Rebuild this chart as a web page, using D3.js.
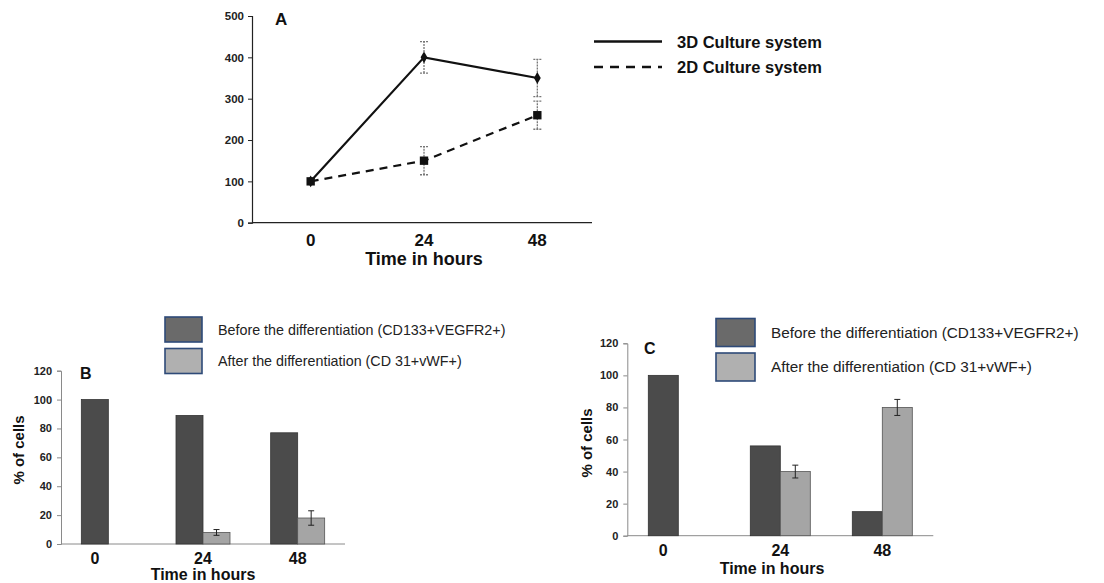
<!DOCTYPE html>
<html>
<head>
<meta charset="utf-8">
<script src="https://cdn.jsdelivr.net/npm/d3@7"></script>
<style>
  body { margin: 0; background: #fff; }
  svg { font-family: "Liberation Sans", Arial, sans-serif; }
</style>
</head>
<body>
<svg id="fig" width="1104" height="583"></svg>
<script>
// categories
const hours = ["0", "24", "48"];

// panel A – line chart
const seriesA = ["3D Culture system", "2D Culture system"];
const culture3D = [100, 400, 350];
const culture3DErr = [0, 38, 45];
const culture2D = [100, 150, 260];
const culture2DErr = [0, 34, 34];
const ticksA = [0, 100, 200, 300, 400, 500];

// panels B and C – bar charts
const barSeries = ["Before the differentiation (CD133+VEGFR2+)", "After the differentiation (CD 31+vWF+)"];
const bBefore = [100, 89, 77];
const bAfter = [0, 8, 18];
const bAfterErr = [0, 2, 5];
const cBefore = [100, 56, 15];
const cAfter = [0, 40, 80];
const cAfterErr = [0, 4, 5];
const ticksBar = [0, 20, 40, 60, 80, 100, 120];

const svg = d3.select("#fig");

// ---------- Panel A ----------
function drawA() {
  const g = svg.append("g");
  const x = d3.scalePoint().domain(hours).range([254, 594]).padding(0.5);
  const y = d3.scaleLinear().domain([0, 500]).range([222.7, 16]);

  const yAxis = g.append("g").attr("transform", "translate(252,0)")
    .call(d3.axisLeft(y).tickValues(ticksA).tickSize(4).tickPadding(4));
  yAxis.select(".domain").attr("stroke", "#222").attr("stroke-width", 1.2);
  yAxis.selectAll("line").attr("stroke", "#222");
  yAxis.selectAll("text").attr("font-size", 11.5).attr("font-weight", "bold").attr("fill", "#222");

  g.append("line").attr("x1", 252).attr("x2", 592).attr("y1", y(0)).attr("y2", y(0))
    .attr("stroke", "#222").attr("stroke-width", 1.2);
  g.selectAll(".xl").data(hours).join("text")
    .attr("x", d => x(d)).attr("y", 246).attr("text-anchor", "middle")
    .attr("font-size", 17).attr("font-weight", "bold").attr("fill", "#111").text(d => d);
  g.append("text").attr("x", x("24")).attr("y", 265).attr("text-anchor", "middle")
    .attr("font-size", 18).attr("font-weight", "bold").attr("fill", "#111").text("Time in hours");
  g.append("text").attr("x", 275).attr("y", 25).attr("font-size", 17)
    .attr("font-weight", "bold").attr("fill", "#111").text("A");

  const line = d3.line().x((d, i) => x(hours[i])).y(d => y(d));
  const sets = [
    { v: culture3D, e: culture3DErr, dash: null, shape: d3.symbolDiamond, size: 40 },
    { v: culture2D, e: culture2DErr, dash: "8,6", shape: d3.symbolSquare, size: 70 }
  ];
  sets.forEach(s => {
    // error bars
    s.v.forEach((v, i) => {
      if (!s.e[i]) return;
      const cx = x(hours[i]);
      const eg = g.append("g").attr("stroke", "#777").attr("stroke-width", 1.3).attr("stroke-dasharray", "2,1");
      eg.append("line").attr("x1", cx).attr("x2", cx).attr("y1", y(v - s.e[i])).attr("y2", y(v + s.e[i]));
      [v - s.e[i], v + s.e[i]].forEach(t =>
        eg.append("line").attr("x1", cx - 4).attr("x2", cx + 4).attr("y1", y(t)).attr("y2", y(t)).attr("stroke-dasharray", null));
    });
    g.append("path").datum(s.v).attr("d", line).attr("fill", "none")
      .attr("stroke", "#111").attr("stroke-width", 2.2).attr("stroke-dasharray", s.dash);
    g.selectAll(null).data(s.v).join("path")
      .attr("transform", (d, i) => `translate(${x(hours[i])},${y(d)})`)
      .attr("d", d3.symbol().type(s.shape).size(s.size)).attr("fill", "#111");
  });

  // legend
  seriesA.forEach((name, i) => {
    const ly = 41.5 + i * 25.5;
    g.append("line").attr("x1", 594).attr("x2", 662).attr("y1", ly).attr("y2", ly)
      .attr("stroke", "#111").attr("stroke-width", 2.6).attr("stroke-dasharray", i ? "9,7" : null);
    g.append("text").attr("x", 677).attr("y", ly + 6).attr("font-size", 16.5)
      .attr("font-weight", "bold").attr("fill", "#111").text(name);
  });
}

// ---------- Bar panels ----------
function drawBars(o) {
  const g = svg.append("g");
  const x = d3.scaleBand().domain(hours).range([o.x0, o.x1]);
  const y = d3.scaleLinear().domain([0, 120]).range([o.yb, o.yt]);
  const inner = d3.scaleBand().domain([0, 1]).range([0, o.pair]);
  const off = (x.bandwidth() - o.pair) / 2;

  const yAxis = g.append("g").attr("transform", `translate(${o.x0},0)`)
    .call(d3.axisLeft(y).tickValues(ticksBar).tickSize(4).tickPadding(5));
  yAxis.select(".domain").attr("stroke", "#8a8a8a");
  yAxis.selectAll("line").attr("stroke", "#8a8a8a");
  yAxis.selectAll("text").attr("font-size", 11).attr("font-weight", "bold").attr("fill", "#222");
  g.append("line").attr("x1", o.x0).attr("x2", o.x1).attr("y1", y(0)).attr("y2", y(0))
    .attr("stroke", "#8a8a8a");

  const vals = [o.before, o.after];
  const fills = ["#4b4b4b", "#a5a5a5"];
  const strokes = ["#333", "#555"];
  vals.forEach((arr, s) => {
    g.selectAll(null).data(arr).join("rect")
      .attr("x", (d, i) => x(hours[i]) + off + inner(s))
      .attr("y", d => y(d)).attr("width", inner.bandwidth())
      .attr("height", d => y(0) - y(d))
      .attr("fill", fills[s]).attr("stroke", d => d ? strokes[s] : "none").attr("stroke-width", 0.8);
  });
  // error bars on the "after" series
  o.after.forEach((v, i) => {
    const e = o.err[i];
    if (!e) return;
    const cx = x(hours[i]) + off + inner(1) + inner.bandwidth() / 2;
    const eg = g.append("g").attr("stroke", "#222").attr("stroke-width", 1);
    eg.append("line").attr("x1", cx).attr("x2", cx).attr("y1", y(v - e)).attr("y2", y(v + e));
    [v - e, v + e].forEach(t =>
      eg.append("line").attr("x1", cx - 3).attr("x2", cx + 3).attr("y1", y(t)).attr("y2", y(t)));
  });

  // category labels centred under the bars that are drawn
  g.selectAll(".xl").data(hours).join("text")
    .attr("x", (d, i) => {
      const drawn = [0, 1].filter(s => vals[s][i] > 0);
      return x(d) + off + d3.mean(drawn, s => inner(s) + inner.bandwidth() / 2);
    })
    .attr("y", o.tickY).attr("text-anchor", "middle")
    .attr("font-size", 16).attr("font-weight", "bold").attr("fill", "#111").text(d => d);
  g.append("text").attr("x", o.titleX).attr("y", o.titleY).attr("text-anchor", "middle")
    .attr("font-size", 16).attr("font-weight", "bold").attr("fill", "#111").text("Time in hours");
  g.append("text").attr("transform", `translate(${o.yTitleX},${o.yTitleY}) rotate(-90)`)
    .attr("text-anchor", "middle").attr("font-size", 15).attr("font-weight", "bold")
    .attr("fill", "#111").text("% of cells");
  g.append("text").attr("x", o.letterX).attr("y", o.letterY).attr("font-size", 16)
    .attr("font-weight", "bold").attr("fill", "#111").text(o.letter);

  // legend
  const legFill = ["#6a6a6a", "#b0b0b0"];
  barSeries.forEach((name, i) => {
    const by = o.legY + i * o.legGap;
    g.append("rect").attr("x", o.legX).attr("y", by).attr("width", o.boxW).attr("height", o.boxH)
      .attr("fill", legFill[i]).attr("stroke", "#2e4a78").attr("stroke-width", 1.6);
    g.append("text").attr("x", o.legX + o.boxW + 16).attr("y", by + o.boxH / 2 + 5)
      .attr("font-size", o.legFont).attr("fill", "#222").text(name);
  });
}

drawA();
drawBars({
  x0: 61, x1: 345, yb: 544, yt: 370.7, pair: 54,
  before: bBefore, after: bAfter, err: bAfterErr,
  tickY: 564, titleX: 203, titleY: 580, yTitleX: 24, yTitleY: 450,
  letter: "B", letterX: 80, letterY: 379,
  legX: 165, legY: 317, legGap: 31.5, boxW: 37, boxH: 25, legFont: 14.3
});
drawBars({
  x0: 627.3, x1: 933.3, yb: 535.7, yt: 343.3, pair: 60,
  before: cBefore, after: cAfter, err: cAfterErr,
  tickY: 556, titleX: 772, titleY: 574, yTitleX: 592, yTitleY: 443,
  letter: "C", letterX: 644, letterY: 354,
  legX: 716, legY: 318.5, legGap: 34.5, boxW: 39, boxH: 28, legFont: 15.3
});
</script>
</body>
</html>
